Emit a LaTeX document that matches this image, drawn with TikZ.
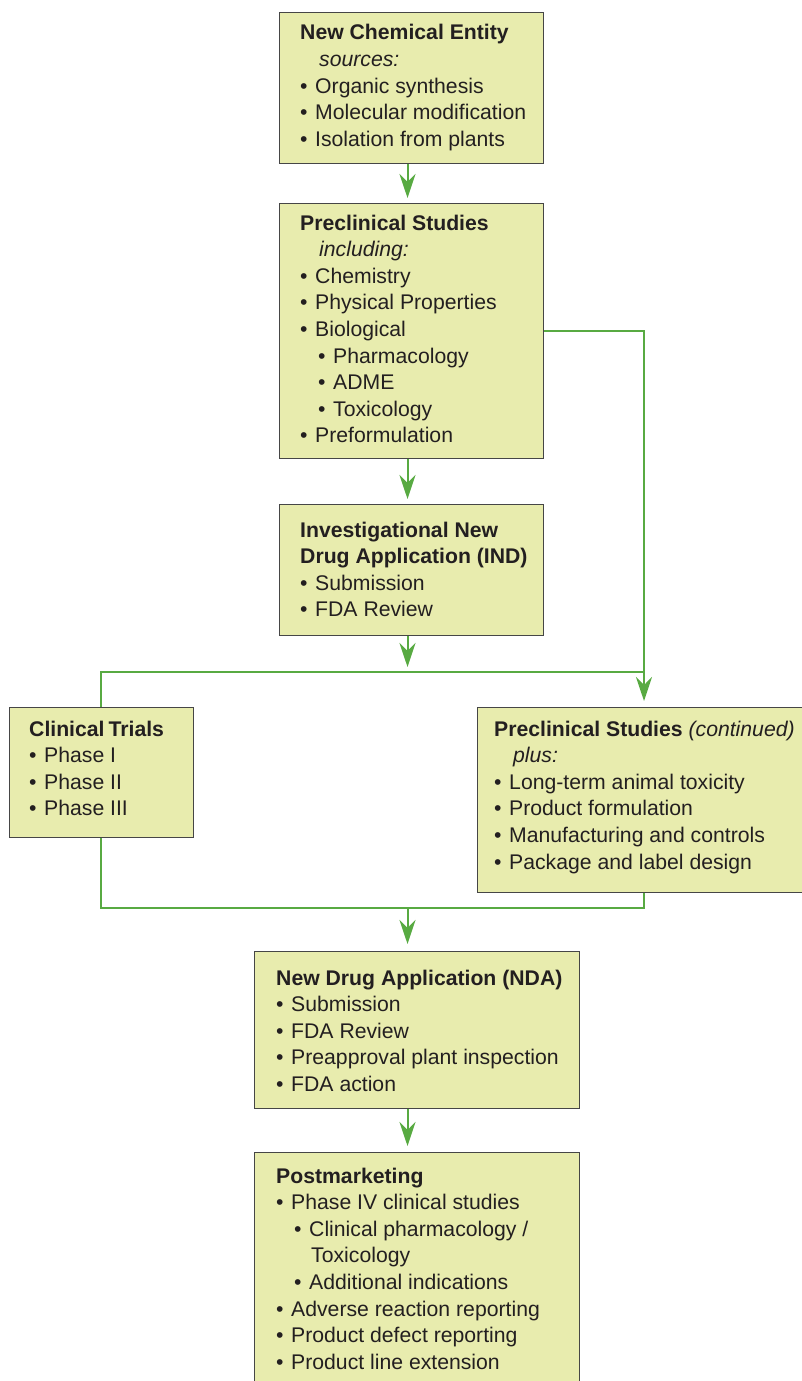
\documentclass[tikz,border=0pt]{standalone}
\usepackage{fontspec}
\setmainfont{Liberation Sans}
\usetikzlibrary{arrows.meta}
\definecolor{boxfill}{RGB}{232,236,174}
\definecolor{boxline}{RGB}{70,70,70}
\definecolor{flow}{RGB}{88,170,66}
\definecolor{ink}{RGB}{35,31,32}
\newcommand\tl[1]{\hbox{#1}}
\newcommand\bul{•\hskip7.6pt}
\begin{document}
\begin{tikzpicture}[x=1pt,y=-1pt,
  box/.style={draw=boxline, line width=1.4pt, fill=boxfill, rectangle, inner sep=0pt, anchor=north west},
  txt/.style={anchor=base west, inner sep=0pt, text=ink, font=\fontsize{21.2}{26.6}\selectfont},
  flowline/.style={draw=flow, line width=2pt},
  arr/.style={flowline, -{Stealth[length=24pt,width=16pt,inset=8pt]}}]
\useasboundingbox (0,0) rectangle (802,1381);
\clip (0,0) rectangle (802,1381);

% boxes
\node[box, minimum width=264pt, minimum height=150.5pt] (b1) at (279,12) {};
\node[box, minimum width=264pt, minimum height=255pt] (b2) at (279,203) {};
\node[box, minimum width=264pt, minimum height=131pt] (b3) at (279,504) {};
\node[box, minimum width=184pt, minimum height=130pt] (b4) at (8.5,707) {};
\node[box, minimum width=334pt, minimum height=185pt] (b5) at (477,707) {};
\node[box, minimum width=325.5pt, minimum height=156.5pt] (b6) at (253.5,951) {};
\node[box, minimum width=325.5pt, minimum height=260pt] (b7) at (253.5,1152) {};

% texts
\node[txt] (t1) at (300,40) {\vtop{%
  \tl{\bfseries New Chemical Entity}
  \tl{\hskip19pt\itshape sources:}
  \tl{\bul Organic synthesis}
  \tl{\bul Molecular modification}
  \tl{\bul Isolation from plants}}};
\node[txt] (t2) at (300,230) {\vtop{%
  \tl{\bfseries Preclinical Studies}
  \tl{\hskip19pt\itshape including:}
  \tl{\bul Chemistry}
  \tl{\bul Physical Properties}
  \tl{\bul Biological}
  \tl{\hskip18pt\bul Pharmacology}
  \tl{\hskip18pt\bul ADME}
  \tl{\hskip18pt\bul Toxicology}
  \tl{\bul Preformulation}}};
\node[txt] (t3) at (300,537) {\vtop{%
  \tl{\bfseries Investigational New}
  \tl{\bfseries Drug Application (IND)}
  \tl{\bul Submission}
  \tl{\bul FDA Review}}};
\node[txt] (t4) at (29,736) {\vtop{%
  \tl{\bfseries Clinical\hskip4pt Trials}
  \tl{\bul Phase I}
  \tl{\bul Phase II}
  \tl{\bul Phase III}}};
\node[txt] (t5) at (494,736) {\vtop{%
  \tl{\bfseries Preclinical Studies {\mdseries\itshape (continued)}}
  \tl{\hskip19pt\itshape plus:}
  \tl{\bul Long-term animal toxicity}
  \tl{\bul Product formulation}
  \tl{\bul Manufacturing and controls}
  \tl{\bul Package and label design}}};
\node[txt] (t6) at (276,985) {\vtop{%
  \tl{\bfseries New Drug Application (NDA)}
  \tl{\bul Submission}
  \tl{\bul FDA Review}
  \tl{\bul Preapproval plant inspection}
  \tl{\bul FDA action}}};
\node[txt] (t7) at (276,1183) {\vtop{%
  \tl{\bfseries Postmarketing}
  \tl{\bul Phase IV clinical studies}
  \tl{\hskip18pt\bul Clinical pharmacology /}
  \tl{\hskip35pt Toxicology}
  \tl{\hskip18pt\bul Additional indications}
  \tl{\bul Adverse reaction reporting}
  \tl{\bul Product defect reporting}
  \tl{\bul Product line extension}}};

% junction points
\coordinate (j1) at (407.5,672);
\coordinate (jl) at (100.5,672);
\coordinate (jr) at (644,672);
\coordinate (c2) at (644,331);
\coordinate (k1) at (407.5,908);
\coordinate (kl) at (100.5,908);
\coordinate (kr) at (644,908);

% connectors
\draw[arr, shorten >=5pt] (b1.south -| j1) -- (b2.north -| j1);
\draw[arr, shorten >=5pt] (b2.south -| j1) -- (b3.north -| j1);
\draw[arr, shorten >=5pt] (b3.south -| j1) -- (j1);
\draw[flowline] (b4.north -| jl) -- (jl) -- (jr);
\draw[arr, shorten >=6pt] (b2.east |- c2) -- (c2) -- (b5.north -| c2);
\draw[flowline] (b4.south -| kl) -- (kl) -- (kr) -- (b5.south -| kr);
\draw[arr, shorten >=7pt] (k1) -- (b6.north -| k1);
\draw[arr, shorten >=6pt] (b6.south -| k1) -- (b7.north -| k1);
\end{tikzpicture}
\end{document}
